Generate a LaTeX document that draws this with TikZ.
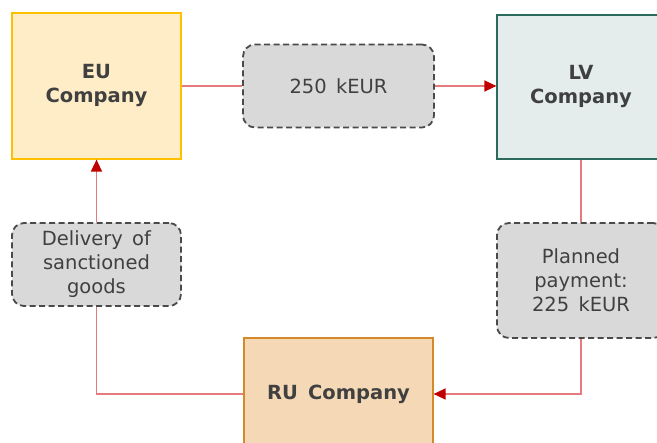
\documentclass[tikz,border=0pt]{standalone}
\usepackage{fontspec}
\setmainfont[WordSpace=1.5]{DejaVu Sans}
\usetikzlibrary{arrows.meta}
\definecolor{eufill}{HTML}{FFEDC8}
\definecolor{eudraw}{HTML}{FFC000}
\definecolor{lvfill}{HTML}{E4EDEC}
\definecolor{lvdraw}{HTML}{2D6A5E}
\definecolor{rufill}{HTML}{F5D9B7}
\definecolor{rudraw}{HTML}{D4892B}
\definecolor{grayfill}{HTML}{D9D9D9}
\definecolor{graydraw}{HTML}{4A4A4A}
\definecolor{txt}{HTML}{404040}
\definecolor{linkred}{HTML}{E57B7D}
\definecolor{tipred}{HTML}{C00000}
\tikzset{
  company/.style={draw, line width=1.2pt, font=\fontsize{19.5}{24}\selectfont\bfseries, text=txt, align=center, inner sep=0pt},
  note/.style={draw=graydraw, fill=grayfill, dash pattern=on 6pt off 3.5pt, line width=1.8pt, rounded corners=12pt, font=\fontsize{19.5}{24}\selectfont, text=txt, align=center, inner sep=0pt},
  link/.style={draw=linkred, line width=1.5pt},
  flow/.style={link, -{Triangle[length=12pt, width=11pt, color=tipred]}}
}
\begin{document}
\begin{tikzpicture}[x=1pt, y=-1pt]
\useasboundingbox (0,0) rectangle (657,443);
\clip (0,0) rectangle (657,443);
\node[company, fill=eufill, draw=eudraw, minimum width=169pt, minimum height=146pt] (eu) at (96.5,86) {EU\\Company};
\node[note, minimum width=191pt, minimum height=83pt] (amt) at (338.5,86) {250 kEUR};
\node[company, fill=lvfill, draw=lvdraw, minimum width=168pt, minimum height=144pt] (lv) at (581,87) {LV\\Company};
\node[note, minimum width=169pt, minimum height=83pt] (deliv) at (96.5,264.5) {Delivery of\\sanctioned\\goods};
\node[note, minimum width=168pt, minimum height=115pt] (plan) at (581,280.5) {Planned\\payment:\\225 kEUR};
\node[company, fill=rufill, draw=rudraw, minimum width=189pt, minimum height=112pt] (ru) at (338.5,394) {RU Company};
\draw[link] (eu.east) -- (amt.west);
\draw[flow] (amt.east) -- (amt.east -| lv.west);
\draw[link] (lv.south) -- (plan.north);
\draw[flow] (plan.south) |- (ru.east);
\draw[link] (ru.west) -| (deliv.south);
\draw[flow] (deliv.north) -- (eu.south);
\end{tikzpicture}
\end{document}
